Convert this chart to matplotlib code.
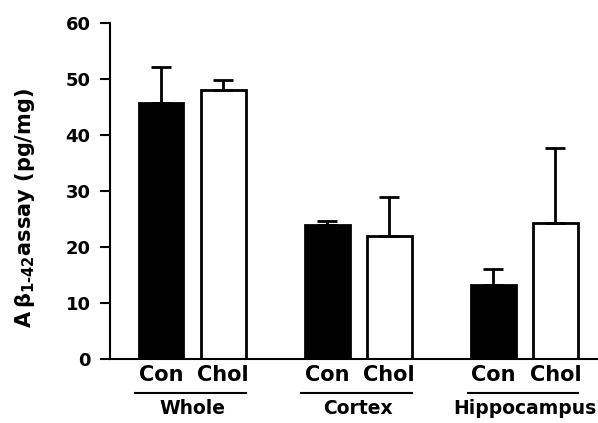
import matplotlib
matplotlib.use("Agg")
import matplotlib.pyplot as plt
import matplotlib.transforms as mtransforms

groups = ["Whole", "Cortex", "Hippocampus"]
conditions = ["Con", "Chol"]
con_means = [45.8, 24.0, 13.2]
con_err = [6.3, 0.7, 2.9]
chol_means = [48.0, 22.0, 24.3]
chol_err = [1.9, 7.0, 13.4]

plt.rcParams["font.family"] = ["DejaVu Sans"]
plt.rcParams["font.weight"] = "bold"
plt.rcParams["mathtext.fontset"] = "dejavusans"
plt.rcParams["mathtext.default"] = "bf"

fig = plt.figure(figsize=(5.98, 4.23), dpi=100)
ax = fig.add_axes([110 / 598, 64 / 423, 488 / 598, 336 / 423])

offset = 0.187
width = 0.27
centers = list(range(len(groups)))
con_x = [c - offset for c in centers]
chol_x = [c + offset for c in centers]

err_kw = dict(ecolor="black", elinewidth=2, capsize=7.5, capthick=2)
ax.bar(con_x, con_means, width, color="black", edgecolor="black", linewidth=2,
       yerr=[[0] * 3, con_err], error_kw=err_kw, zorder=2)
ax.bar(chol_x, chol_means, width, color="white", edgecolor="black", linewidth=2,
       yerr=[[0] * 3, chol_err], error_kw=err_kw, zorder=2)

ax.set_ylim(0, 60)
ax.set_xlim(-0.494, 2.443)
ax.set_yticks(range(0, 61, 10))
ax.tick_params(axis="y", direction="out", length=7, width=1.5, labelsize=13, pad=7)
ax.set_xticks([])
for lbl in ax.get_yticklabels():
    lbl.set_fontweight("bold")

ax.spines["top"].set_visible(False)
ax.spines["right"].set_visible(False)
ax.spines["left"].set_linewidth(1.5)
ax.spines["bottom"].set_linewidth(1.5)

ax.set_ylabel("A\u2009β" + r"$_{1\text{-}42}$" + "assay (pg/mg)", fontsize=15,
              fontweight="bold")
ax.yaxis.set_label_coords(-0.15, 0.45)

trans = mtransforms.blended_transform_factory(ax.transData, fig.transFigure)
for i, g in enumerate(groups):
    ax.text(con_x[i], 1 - 375 / 423, conditions[0], transform=trans, ha="center",
            va="center", fontsize=15, fontweight="bold")
    ax.text(chol_x[i], 1 - 375 / 423, conditions[1], transform=trans, ha="center",
            va="center", fontsize=15, fontweight="bold")
    ax.plot([con_x[i] - width / 2 - 0.02, chol_x[i] + width / 2], [1 - 393 / 423] * 2,
            transform=trans, color="black", linewidth=1.5, clip_on=False)
    ax.text(centers[i], 1 - 408 / 423, g, transform=trans, ha="center",
            va="center", fontsize=13.5, fontweight="bold")

fig.savefig("out.png", dpi=100)
